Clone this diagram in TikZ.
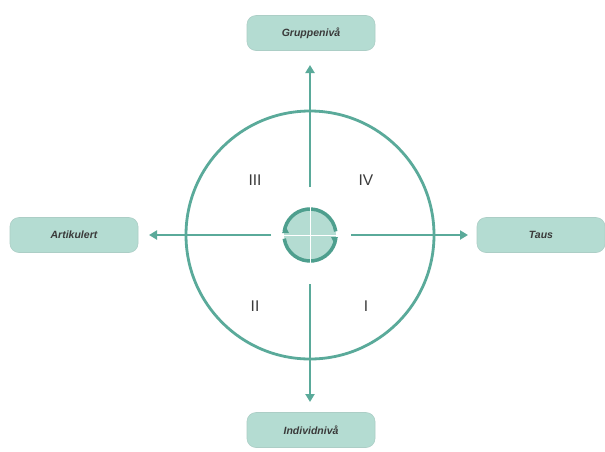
\documentclass[tikz,border=0pt]{standalone}
\usepackage{fontspec}
\setmainfont{Liberation Sans}
\usetikzlibrary{arrows.meta}
\definecolor{teal1}{HTML}{5AAA9A}
\definecolor{tealdark}{HTML}{4E9F8E}
\definecolor{boxfill}{HTML}{B4DCD2}
\definecolor{txt}{HTML}{3A3A3A}
\tikzset{
  labelbox/.style={draw=boxfill!85!gray, line width=0.6pt, fill=boxfill, rounded corners=9pt, minimum width=128pt, minimum height=35pt, font=\fontsize{10.5}{12}\selectfont\bfseries\itshape, text=txt},
  axisarrow/.style={draw=teal1, line width=2.8pt, -{Triangle[length=8pt,width=9pt]}},
  numeral/.style={font=\fontsize{15.5}{17}\selectfont, text=txt}
}
\begin{document}
\begin{tikzpicture}[x=1pt,y=-1pt]
\useasboundingbox (0,0) rectangle (605,451);
\fill[white] (0,0) rectangle (605,451);
% boxes
\node[labelbox] (top) at (311,33) {Gruppenivå};
\node[labelbox] (left) at (74,235) {Artikulert};
\node[labelbox] (right) at (541,235) {Taus};
\node[labelbox] (bottom) at (311,430) {Individnivå};
% big circle
\node[draw=teal1, line width=2.8pt, circle, minimum size=248pt, inner sep=0pt] (big) at (310,235) {};
% centre circle
\node[circle, fill=boxfill, minimum size=52pt, inner sep=0pt] (hub) at (310,235) {};
\draw[tealdark, line width=3.5pt] (310,235) ++(172:26) arc[start angle=172, end angle=8, radius=26];
\draw[tealdark, line width=3.5pt] (310,235) ++(-8:26) arc[start angle=-8, end angle=-172, radius=26];
\fill[tealdark] (282,233) -- (289,233) -- (285.5,226) -- cycle;
\fill[tealdark] (331,237) -- (338,237) -- (334.5,244) -- cycle;
\draw[white, line width=1pt] (281,235) -- (339,235);
\draw[white, line width=1pt] (310,206) -- (310,264);
% axis arrows
\coordinate (ut) at (310,187);
\coordinate (ub) at (310,284);
\coordinate (ul) at (271,235);
\coordinate (ur) at (351,235);
\draw[axisarrow] (ut) -- (310,65);
\draw[axisarrow] (ub) -- (310,402);
\draw[axisarrow] (ul) -- (149,235);
\draw[axisarrow] (ur) -- (468,235);
% numerals
\node[numeral] (n3) at (255,180) {III};
\node[numeral] (n4) at (366,180) {IV};
\node[numeral] (n2) at (255,306) {II};
\node[numeral] (n1) at (366,306) {I};
\end{tikzpicture}
\end{document}
